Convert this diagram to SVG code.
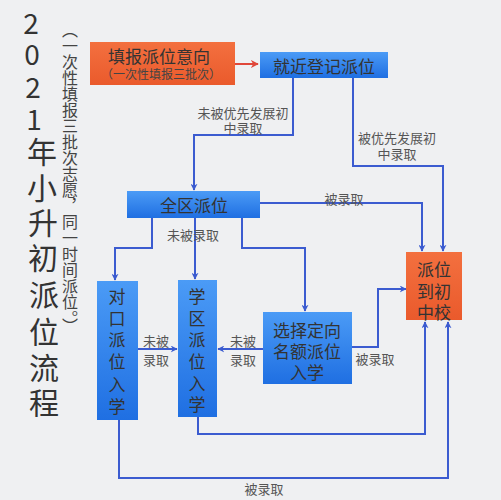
<svg xmlns="http://www.w3.org/2000/svg" width="501" height="500" viewBox="0 0 501 500">
<defs>
<linearGradient id="gb" x1="0" y1="0" x2="0" y2="1">
<stop offset="0" stop-color="#4b9bf6"/>
<stop offset="1" stop-color="#1f6fe2"/>
</linearGradient>
<linearGradient id="go" x1="0" y1="0" x2="0" y2="1">
<stop offset="0" stop-color="#f3703f"/>
<stop offset="1" stop-color="#ea5a2c"/>
</linearGradient>
<marker id="ab" viewBox="0 0 10 10" refX="9" refY="5" markerWidth="7" markerHeight="7" orient="auto" markerUnits="userSpaceOnUse">
<path d="M0,0 L10,5 L0,10 L3,5 z" fill="#3b5bd0"/>
</marker>
<marker id="ar" viewBox="0 0 10 10" refX="9" refY="5" markerWidth="8" markerHeight="8" orient="auto" markerUnits="userSpaceOnUse">
<path d="M0,0 L10,5 L0,10 L3,5 z" fill="#e0473a"/>
</marker>
</defs>
<style>
text{font-family:"Noto Sans CJK SC","Noto Sans",sans-serif}
.t{fill:#333;font-size:17px;text-anchor:middle;dominant-baseline:central}
.s{fill:#444;font-size:12px;text-anchor:middle;dominant-baseline:central}
.l{fill:#555;font-size:13px;text-anchor:middle;dominant-baseline:central}
.ti{fill:#333;font-size:30px;text-anchor:middle;dominant-baseline:central}
.td{fill:#333;font-size:28px;text-anchor:middle;dominant-baseline:central}
.c{fill:none;stroke:#3b5bd0;stroke-width:2}
.blue{fill:url(#gb)}
.org{fill:url(#go)}
</style>
<rect width="501" height="500" fill="#eff0f2"/>
<g id="title">
<text class="td" x="31" y="22">2</text>
<text class="td" x="32" y="53">0</text>
<text class="td" x="33" y="86">2</text>
<text class="td" x="34" y="118">1</text>
<text class="ti" x="42" y="150">年</text>
<text class="ti" x="42" y="186">小</text>
<text class="ti" x="43" y="221">升</text>
<text class="ti" x="43" y="256">初</text>
<text class="ti" x="44" y="293">派</text>
<text class="ti" x="44" y="330">位</text>
<text class="ti" x="44" y="366">流</text>
<text class="ti" x="44" y="401">程</text>
</g>
<g id="subtitle">
<text x="70" y="22" style="writing-mode:vertical-rl;font-size:16px;fill:#444">（一次性填报三批次志愿，同一时间派位。）</text>
</g>
<g id="connectors">
<line x1="235" y1="64" x2="258" y2="64" stroke="#e0473a" stroke-width="2" marker-end="url(#ar)"/>
<polyline class="c" points="293,78 293,135 194,135 194,190" marker-end="url(#ab)"/>
<polyline class="c" points="353,78 353,166 443,166 443,251" marker-end="url(#ab)"/>
<polyline class="c" points="260,203 422,203 422,251" marker-end="url(#ab)"/>
<polyline class="c" points="152,218 152,248 115,248 115,280" marker-end="url(#ab)"/>
<polyline class="c" points="195,218 195,279" marker-end="url(#ab)"/>
<polyline class="c" points="242,218 242,248 305,248 305,311" marker-end="url(#ab)"/>
<polyline class="c" points="138,349 177,349" marker-end="url(#ab)"/>
<polyline class="c" points="263,349 218,349" marker-end="url(#ab)"/>
<polyline class="c" points="352,347 378,347 378,289 406,289" marker-end="url(#ab)"/>
<polyline class="c" points="198,417 198,434 425,434 425,322" marker-end="url(#ab)"/>
<polyline class="c" points="119,420 119,478 448,478 448,322" marker-end="url(#ab)"/>
</g>
<g id="labels">
<text class="l" x="243" y="112">未被优先发展初</text>
<text class="l" x="243" y="127">中录取</text>
<text class="l" x="397" y="137">被优先发展初</text>
<text class="l" x="397" y="153">中录取</text>
<text class="l" x="344" y="198">被录取</text>
<text class="l" x="193" y="234">未被录取</text>
<text class="l" x="156" y="340">未被</text>
<text class="l" x="156" y="359">录取</text>
<text class="l" x="243" y="340">未被</text>
<text class="l" x="243" y="359">录取</text>
<text class="l" x="375" y="358">被录取</text>
<text class="l" x="264" y="488">被录取</text>
</g>
<g id="n-fill">
<rect class="org" x="90" y="42" width="145" height="43"/>
<text class="t" x="159" y="55">填报派位意向</text>
<text class="s" x="161" y="73">（一次性填报三批次）</text>
</g>
<g id="n-jiujin">
<rect class="blue" x="260" y="52" width="128" height="26"/>
<text class="t" x="324" y="65">就近登记派位</text>
</g>
<g id="n-quanqu">
<rect class="blue" x="127" y="191" width="133" height="27"/>
<text class="t" x="194" y="204">全区派位</text>
</g>
<g id="n-duikou">
<rect class="blue" x="97" y="281" width="41" height="139"/>
<text class="t" x="117" y="295">对</text>
<text class="t" x="117" y="317">口</text>
<text class="t" x="117" y="338">派</text>
<text class="t" x="117" y="360">位</text>
<text class="t" x="117" y="383">入</text>
<text class="t" x="117" y="405">学</text>
</g>
<g id="n-xuequ">
<rect class="blue" x="178" y="280" width="39" height="137"/>
<text class="t" x="197" y="295">学</text>
<text class="t" x="197" y="317">区</text>
<text class="t" x="197" y="338">派</text>
<text class="t" x="197" y="360">位</text>
<text class="t" x="197" y="382">入</text>
<text class="t" x="197" y="403">学</text>
</g>
<g id="n-xuanze">
<rect class="blue" x="263" y="312" width="89" height="72"/>
<text class="t" x="307" y="329">选择定向</text>
<text class="t" x="307" y="350">名额派位</text>
<text class="t" x="307" y="371">入学</text>
</g>
<g id="n-paiwei">
<rect class="org" x="406" y="252" width="56" height="68"/>
<text class="t" x="434" y="268">派位</text>
<text class="t" x="434" y="290">到初</text>
<text class="t" x="434" y="311">中校</text>
</g>
</svg>
